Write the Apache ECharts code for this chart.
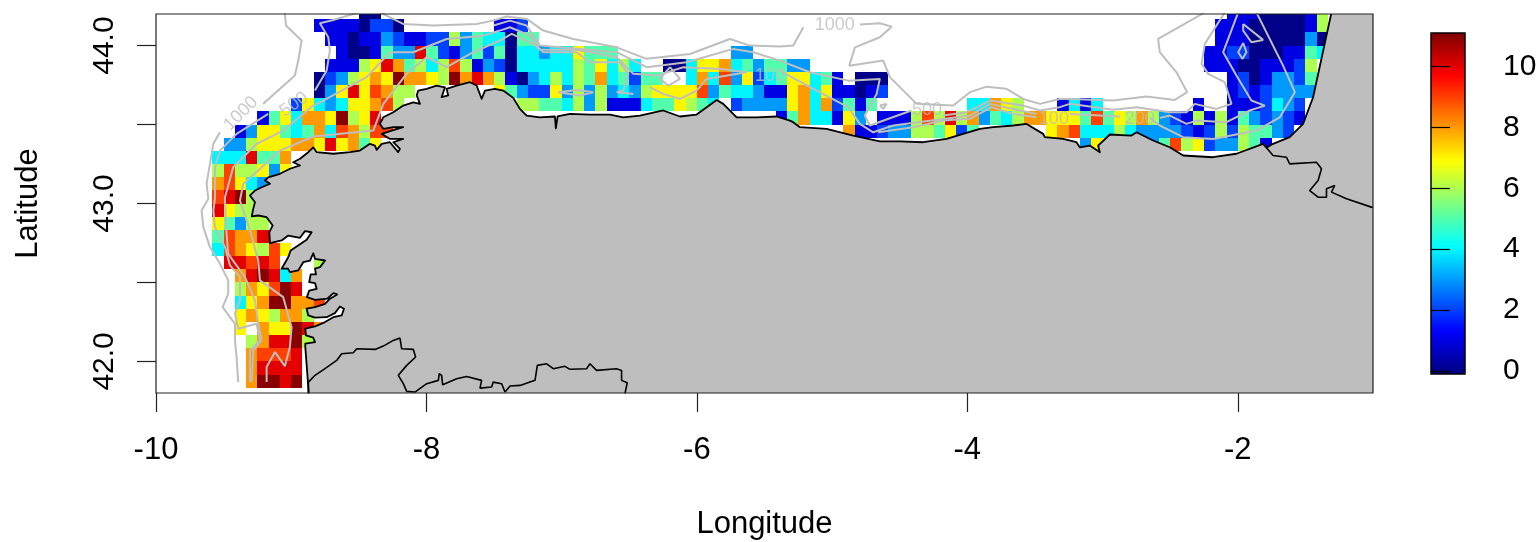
<!DOCTYPE html>
<html>
<head>
<meta charset="utf-8">
<style>html,body{margin:0;padding:0;background:#fff}#c{width:1540px;height:542px}</style>
<script src="https://cdn.jsdelivr.net/npm/echarts@6/dist/echarts.min.js"></script>
</head>
<body>
<div id="c"></div>
<script>
// Grid cells: each row is a list of [first column, values]; column = (lon + 10) * 12, row 0 is the northernmost
const row00 = [[18,[0,0]],[95,[1,1,1,0,0,0,0,1,6]]];
const row01 = [[14,[1,1,1,1,0,2,2,0]],[30,[1,1,2]],[94,[1,1,1,0,0,0,0,0,1,6]]];
const row02 = [[15,[1,1,0,1,1,3,2,1,1,2,2,6,3,5,4,4,0,5,5]],[94,[1,1,1,0,0,0,0,0,3,0]]];
const row03 = [[16,[1,0,0,1,5,3,3,10,5,2,1,3,5,2,5,0,4,4,3,4,4,7,5,5,5]],[51,[3,3]],[93,[1,1,2,2,0,0,0,1,1,5,4]]];
const row04 = [[15,[1,1,1,6,7,10,8,5,6,4,6,9,6,1,3,2,0,4,4,4,4,4,6,5,7,4,6,4]],[45,[0,0,4,7,7,8,4,5,3,5,5,3,3]],[93,[1,1,1,0,0,1,1,1,2,6]]];
const row05 = [[14,[0,2,3,6,7,8,7,11,8,8,7,6,11,8,10,8,6,1,0,3,4,6,4,6,5,8,4,5,2,5,5]],[47,[4,8,4,9,3,7,2,4,5,7,7,4,5,1]],[62,[0,0,0]],[95,[1,2,0,1,3,3,2,5]]];
const row06 = [[14,[0,3,7,10,7,9,8,6,6]],[30,[7,5,3,2,2,7,3,6,3,6,3,4,3,6,7,7,7,7,9,3,5,4,4,3,1,1,7,8,4,7,1,1,0,1,2]],[95,[1,2,1,2,3,3,3,3]]];
const row07 = [[12,[2,7,4,3,4,7,7,8,9,6]],[32,[6,6,5,5,4,6,3,6,1,1,1,4,5,5,7,6,5,4,null,2,3,3,3,3,7,8,4,8,2,5,1,5]],[72,[4,4,8,7,6]],[80,[1,4,1,4]],[92,[1]],[95,[1,1,1,2,4,3,2]]];
const row08 = [[9,[1,5,7,4,8,8,7,11,6,7,10]],[55,[1,5,8,4,4,1,7,3]],[64,[1,1,1,6,9,6,10,6,8,3,5,4,6,8,8,7,7,7,5,9,5,7,6,8,6,3,2,1,6,1,6,1,5,3,2,3,2,1]]];
const row09 = [[7,[1,3,7,7,5,4,5,8,4,9,8,6,9,9]],[61,[8,1,1,2,3,3,6,6,5,7,2,5]],[79,[7,8,9,4,4,4,6,4,3,3,3,3,2,1,2,6,2,6,5,5,3,2]]];
const row10 = [[6,[3,3,6,7,7,7,8,8,7,10,7,8,5,7]],[82,[3,7]],[88,[3,5,9,6,7,2,3,3,6,5,1]]];
const row11 = [[5,[4,4,4,10,5,5,8]]];
const row12 = [[5,[6,9,6,6,7,3,7]]];
const row13 = [[5,[8,9,7,4,3]]];
const row14 = [[5,[9,10,11,6]]];
const row15 = [[5,[10,7,6,6]]];
const row16 = [[5,[7,5,3,6,6]]];
const row17 = [[5,[5,9,8,8,10]]];
const row18 = [[5,[4,9,8,7,6,9,7]]];
const row19 = [[6,[10,10,9,10,9]],[14,[6]]];
const row20 = [[7,[8,10,11,10,4,8]]];
const row21 = [[7,[6,8,7,9,11,10]]];
const row22 = [[7,[4,7,8,11,11,8,8,9]]];
const row23 = [[7,[7,8,7,6,8,8,6]]];
const row24 = [[7,[7,null,8,7,7,11,10,8]]];
const row25 = [[8,[6,8,10,10,11,6]]];
const row26 = [[8,[8,9,9,9,10]]];
const row27 = [[8,[8,10,10,10,10]]];
const row28 = [[8,[8,11,11,10,11]]];
const rows = [row00,row01,row02,row03,row04,row05,row06,row07,row08,row09,row10,row11,row12,row13,row14,row15,row16,row17,row18,row19,row20,row21,row22,row23,row24,row25,row26,row27,row28];

// Land outline as lon/lat
const coast = [[-8.869,41.78],[-8.881,41.922],[-8.896,42.091],[-8.896,42.112],[-8.824,42.122],[-8.837,42.150],[-8.891,42.165],[-8.896,42.207],[-8.824,42.222],[-8.750,42.249],[-8.689,42.280],[-8.627,42.291],[-8.610,42.334],[-8.640,42.348],[-8.677,42.306],[-8.738,42.280],[-8.824,42.277],[-8.874,42.291],[-8.886,42.334],[-8.824,42.344],[-8.750,42.365],[-8.713,42.397],[-8.660,42.424],[-8.689,42.432],[-8.733,42.397],[-8.824,42.390],[-8.884,42.407],[-8.867,42.449],[-8.812,42.460],[-8.824,42.496],[-8.867,42.502],[-8.856,42.551],[-8.817,42.551],[-8.824,42.587],[-8.787,42.597],[-8.750,42.639],[-8.824,42.650],[-8.837,42.685],[-8.861,42.639],[-8.911,42.628],[-8.948,42.576],[-9.009,42.565],[-9.024,42.587],[-9.071,42.587],[-9.022,42.660],[-9.004,42.703],[-8.960,42.728],[-8.886,42.770],[-8.849,42.818],[-8.898,42.825],[-8.935,42.783],[-9.022,42.797],[-9.071,42.766],[-9.157,42.749],[-9.162,42.818],[-9.137,42.861],[-9.182,42.913],[-9.244,42.924],[-9.292,42.918],[-9.281,42.966],[-9.268,43.008],[-9.305,43.051],[-9.268,43.082],[-9.218,43.103],[-9.157,43.125],[-9.194,43.146],[-9.170,43.166],[-9.083,43.188],[-9.009,43.220],[-8.935,43.241],[-8.985,43.261],[-8.935,43.283],[-8.874,43.325],[-8.837,43.356],[-8.812,43.325],[-8.689,43.315],[-8.566,43.325],[-8.492,43.335],[-8.418,43.378],[-8.381,43.367],[-8.368,43.340],[-8.331,43.378],[-8.270,43.388],[-8.209,43.325],[-8.196,43.346],[-8.245,43.388],[-8.172,43.409],[-8.270,43.409],[-8.331,43.441],[-8.257,43.462],[-8.172,43.483],[-8.245,43.483],[-8.319,43.473],[-8.344,43.504],[-8.319,43.546],[-8.245,43.578],[-8.172,43.620],[-8.098,43.641],[-8.048,43.631],[-8.072,43.684],[-8.061,43.715],[-7.999,43.726],[-7.925,43.747],[-7.863,43.736],[-7.888,43.673],[-7.839,43.684],[-7.851,43.726],[-7.777,43.747],[-7.678,43.768],[-7.629,43.747],[-7.592,43.663],[-7.567,43.715],[-7.494,43.726],[-7.432,43.715],[-7.358,43.669],[-7.309,43.599],[-7.259,43.557],[-7.161,43.546],[-7.050,43.551],[-7.043,43.475],[-7.030,43.551],[-6.939,43.568],[-6.791,43.563],[-6.643,43.563],[-6.545,43.546],[-6.421,43.557],[-6.249,43.589],[-6.126,43.551],[-6.002,43.563],[-5.928,43.609],[-5.854,43.656],[-5.805,43.631],[-5.706,43.546],[-5.559,43.546],[-5.411,43.551],[-5.312,43.525],[-5.288,43.515],[-5.238,43.483],[-5.041,43.473],[-4.844,43.430],[-4.647,43.394],[-4.499,43.394],[-4.327,43.388],[-4.154,43.409],[-4.031,43.441],[-3.907,43.473],[-3.809,43.483],[-3.661,43.494],[-3.562,43.504],[-3.439,43.441],[-3.427,43.420],[-3.292,43.409],[-3.193,43.388],[-3.168,43.356],[-3.094,43.367],[-3.020,43.325],[-3.033,43.367],[-2.946,43.437],[-2.786,43.430],[-2.749,43.451],[-2.626,43.399],[-2.503,43.356],[-2.404,43.304],[-2.183,43.293],[-2.010,43.315],[-1.813,43.378],[-1.788,43.353],[-1.739,43.378],[-1.616,43.420],[-1.517,43.504],[-1.443,43.673],[-1.307,44.21],[-0.98,44.21],[-0.98,41.78]];
const borderFrance = [[-1.788,43.353],[-1.739,43.304],[-1.640,43.293],[-1.616,43.251],[-1.418,43.261],[-1.381,43.220],[-1.406,43.146],[-1.468,43.082],[-1.406,43.040],[-1.344,43.040],[-1.344,43.093],[-1.283,43.114],[-1.307,43.072],[-1.196,43.030],[-1.012,42.977],[-1.0,42.975]];
const borderPortugal = [[-8.873,41.796],[-8.873,41.869],[-8.824,41.912],[-8.750,41.954],[-8.664,42.006],[-8.627,42.049],[-8.541,42.055],[-8.516,42.080],[-8.380,42.076],[-8.319,42.097],[-8.245,42.133],[-8.196,42.148],[-8.183,42.080],[-8.097,42.076],[-8.080,42.028],[-8.146,41.975],[-8.208,41.912],[-8.171,41.859],[-8.146,41.810],[-8.085,41.806],[-7.998,41.859],[-7.912,41.880],[-7.905,41.922],[-7.888,41.912],[-7.880,41.852],[-7.777,41.890],[-7.703,41.905],[-7.592,41.880],[-7.604,41.831],[-7.518,41.838],[-7.506,41.869],[-7.444,41.859],[-7.419,41.806],[-7.382,41.844],[-7.308,41.848],[-7.197,41.880],[-7.180,41.975],[-7.111,41.985],[-7.062,41.954],[-6.976,41.969],[-6.939,41.950],[-6.815,41.954],[-6.791,41.985],[-6.742,41.943],[-6.594,41.954],[-6.557,41.943],[-6.557,41.880],[-6.515,41.865],[-6.532,41.796]];

// Depth contours as lon/lat
const contourWest1000 = [[-9.392,41.869],[-9.404,42.027],[-9.416,42.133],[-9.416,42.238],[-9.507,42.344],[-9.466,42.428],[-9.466,42.513],[-9.527,42.618],[-9.601,42.724],[-9.650,42.850],[-9.663,42.956],[-9.613,43.03],[-9.626,43.124],[-9.576,43.378],[-9.527,43.451]];
const contourNorthWest1000 = [[-9.207,43.631],[-8.973,43.810],[-8.948,43.905],[-8.923,44.032],[-9.039,44.127],[-9.047,44.21]];
const contourWest500 = [[-9.305,41.869],[-9.305,42.070],[-9.231,42.133],[-9.256,42.238],[-9.392,42.207],[-9.416,42.302],[-9.379,42.386],[-9.379,42.534],[-9.453,42.608],[-9.490,42.724],[-9.564,42.850],[-9.576,42.956],[-9.564,43.030],[-9.564,43.230],[-9.527,43.335],[-9.404,43.441],[-9.170,43.567]];
const contourNorthWest500 = [[-8.825,43.715],[-8.738,43.842],[-8.714,43.968],[-8.726,44.053],[-8.788,44.141],[-8.689,44.162],[-8.504,44.21]];
const contour200 = [[-9.293,41.869],[-9.281,42.070],[-9.219,42.133],[-9.244,42.238],[-9.268,42.386],[-9.342,42.534],[-9.466,42.681],[-9.478,42.808],[-9.490,43.019],[-9.490,43.040],[-9.429,43.230],[-9.256,43.378],[-9.059,43.462],[-8.837,43.620],[-8.763,43.652],[-8.443,43.800],[-8.270,43.958],[-8.098,43.958],[-7.851,44.042],[-7.580,44.063],[-7.457,44.095],[-7.382,44.116],[-7.234,44.063],[-7.160,43.973],[-6.889,43.973],[-6.593,43.926],[-6.470,43.821],[-6.298,43.810],[-6.101,43.863],[-5.829,43.852],[-5.632,43.831]];
const contour200East = [[-5.386,43.842],[-5.140,43.726],[-4.881,43.610],[-4.795,43.504],[-4.696,43.451],[-4.548,43.494],[-4.166,43.536],[-3.981,43.557],[-3.833,43.631],[-3.611,43.589],[-3.488,43.567]];
const contourNorth1000 = [[-8.344,44.21],[-8.172,44.137],[-7.950,44.127],[-7.629,44.137],[-7.506,44.158],[-7.407,44.184],[-7.259,44.169],[-7.136,44.095],[-6.914,44.042],[-6.593,43.989],[-6.372,43.916],[-6.051,43.947],[-5.756,44.042],[-5.608,44.000],[-5.386,43.994],[-5.287,44.000],[-5.213,44.116]];
const contourEast1000 = [[-4.794,44.133],[-4.647,44.141],[-4.560,44.120],[-4.647,44.053],[-4.831,43.989],[-4.873,43.873],[-4.622,43.905],[-4.573,43.800],[-4.375,43.631],[-4.104,43.620],[-3.981,43.705],[-3.858,43.740],[-3.710,43.726],[-3.587,43.662],[-3.464,43.631],[-3.316,43.662],[-3.242,43.662],[-2.922,43.652],[-2.675,43.677],[-2.466,43.656],[-2.374,43.705],[-2.453,43.831],[-2.577,43.958],[-2.589,44.042],[-2.244,44.21]];
const contourNorth500 = [[-7.505,44.127],[-7.382,44.158],[-7.259,44.127],[-7.160,44.000],[-6.593,43.958],[-6.372,43.863],[-6.076,43.895],[-5.731,43.979],[-5.583,43.958],[-5.386,43.905],[-5.164,43.831],[-4.881,43.778],[-4.647,43.789],[-4.671,43.694],[-4.758,43.557],[-4.721,43.494],[-4.413,43.589]];
const contourEast500 = [[-4.178,43.557],[-4.006,43.578],[-3.833,43.652],[-3.587,43.620],[-3.464,43.589],[-3.316,43.610],[-3.242,43.631],[-2.922,43.593],[-2.749,43.610],[-2.503,43.578],[-2.379,43.578],[-2.318,43.631],[-2.158,43.599],[-2.047,43.631],[-2.096,43.768],[-2.219,43.821],[-2.268,43.884],[-2.244,44.011],[-2.096,44.21]];
const contourBiscay200 = [[-2.577,43.542],[-2.503,43.557],[-2.379,43.504],[-2.305,43.525],[-2.084,43.515],[-1.911,43.589],[-1.800,43.620],[-1.899,43.652],[-2.010,43.810],[-2.108,43.958],[-1.997,44.21]];
const contourBiscay100West = [[-3.242,43.567],[-2.872,43.551]];
const contourBiscay100 = [[-2.650,43.542],[-2.577,43.494],[-2.404,43.420],[-2.182,43.409],[-1.862,43.462],[-1.689,43.546],[-1.578,43.705],[-1.665,43.873],[-1.862,44.21]];
const contourWest100 = [[-9.182,41.869],[-9.182,41.964],[-9.120,42.059],[-9.047,41.970],[-9.010,42.091],[-8.997,42.217],[-9.059,42.407],[-9.231,42.513],[-9.244,42.639],[-9.305,42.829],[-9.379,43.019],[-9.379,43.030],[-9.355,43.124],[-9.083,43.335],[-8.837,43.424],[-8.393,43.462],[-8.319,43.631],[-8.147,43.821],[-7.999,43.926],[-7.851,43.863],[-7.654,43.958],[-7.457,44.032],[-7.370,44.074],[-7.210,44.011],[-7.136,43.958],[-6.889,43.958],[-6.791,43.894],[-6.569,43.894],[-6.507,43.821],[-6.544,43.715],[-6.593,43.705],[-6.470,43.694]];
const contourAsturias100 = [[-6.347,43.736],[-6.248,43.694],[-6.125,43.662],[-6.002,43.715],[-5.928,43.789],[-5.632,43.831]];
const contourCantabria100 = [[-4.659,43.451],[-4.400,43.483],[-4.178,43.525],[-3.981,43.536],[-3.821,43.610],[-3.661,43.567],[-3.488,43.546]];
const loopA = [[-6.199,43.863],[-6.125,43.789],[-6.212,43.747],[-6.273,43.789],[-6.199,43.863]];
const loopB = [[-7.025,43.705],[-6.889,43.719],[-6.766,43.705],[-6.865,43.684],[-7.025,43.705]];
const loopC = [[-4.647,43.620],[-4.597,43.631],[-4.622,43.599],[-4.647,43.620]];
const loopD = [[-1.960,44.137],[-1.813,44.036],[-1.899,44.021],[-1.960,44.095],[-1.960,44.137]];
const loopE = [[-1.960,44.017],[-1.936,43.958],[-1.965,43.916],[-1.997,43.958],[-1.960,44.017]];
const contours = [contourWest1000,contourNorthWest1000,contourWest500,contourNorthWest500,contour200,contour200East,contourNorth1000,contourEast1000,contourNorth500,contourEast500,contourBiscay200,contourBiscay100West,contourBiscay100,contourWest100,contourAsturias100,contourCantabria100,loopA,loopB,loopC,loopD,loopE];

const contourLabelText = ['1000','1000','500','100','500','100','200'];
const contourLabelLon = [-4.980,-9.372,-8.980,-5.460,-4.299,-3.360,-2.725];
const contourLabelLat = [44.127,43.570,43.627,43.810,43.589,43.538,43.538];
const contourLabelAngle = [0,45,35,0,0,0,0];

const xTicks = [-10,-8,-6,-4,-2];
const yTicks = [42,42.5,43,43.5,44];
const yLabels = [42,43,44];
const barTicks = [0,2,4,6,8,10];
const jet = ['#00007f','#0000ff','#007fff','#00ffff','#7fff7f','#ffff00','#ff7f00','#ff0000','#7f0000'];
const FONT = '"Liberation Sans", Arial, sans-serif';
const STEP = 1 / 12;

const cells = [];
rows.forEach((row, r) => {
  const latBottom = 44 + (2 - r) * STEP;
  row.forEach(([first, vals]) => {
    vals.forEach((v, i) => {
      if (v !== null) cells.push([-10 + (first + i) * STEP, latBottom, v]);
    });
  });
});

const lineSeries = contours.map(d => ({
  type: 'line', data: d, xAxisIndex: 0, yAxisIndex: 0, showSymbol: false, symbol: 'none', smooth: false,
  lineStyle: { color: '#bebebe', width: 2 }, z: 4, silent: true, animation: false
}));

const chart = echarts.init(document.getElementById('c'), null, { renderer: 'canvas' });
chart.setOption({
  animation: false,
  backgroundColor: '#fff',
  textStyle: { fontFamily: FONT },
  grid: [
    { left: 156, top: 14, width: 1217, height: 379, show: true, borderColor: '#222', borderWidth: 1.2, backgroundColor: 'transparent', z: 10, outerBoundsMode: 'none' },
    { left: 1431, top: 33, width: 34, height: 341, show: true, borderColor: '#000', borderWidth: 1.5, backgroundColor: 'transparent', z: 10, outerBoundsMode: 'none' }
  ],
  xAxis: [
    { type: 'value', gridIndex: 0, min: -10, max: -1, splitLine: { show: false }, z: 10,
      axisLine: { show: false },
      axisTick: { show: true, length: 19, customValues: xTicks, lineStyle: { color: '#222', width: 1.2 } },
      axisLabel: { customValues: xTicks, fontSize: 31, color: '#000', margin: 42, fontFamily: FONT },
      name: 'Longitude', nameLocation: 'middle', nameGap: 131, nameTextStyle: { fontSize: 31, color: '#000', fontFamily: FONT, verticalAlign: 'middle' } },
    { type: 'value', gridIndex: 1, min: 0, max: 1, show: false }
  ],
  yAxis: [
    { type: 'value', gridIndex: 0, min: 41.8, max: 44.2, splitLine: { show: false }, z: 10,
      axisLine: { show: false },
      axisTick: { show: true, length: 19, customValues: yTicks, lineStyle: { color: '#222', width: 1.2 } },
      axisLabel: { customValues: yLabels, fontSize: 30, color: '#000', rotate: 90, margin: 51, fontFamily: FONT,
        formatter: v => Number(v).toFixed(1), verticalAlign: 'middle', align: 'center' },
      name: 'Latitude', nameLocation: 'middle', nameGap: 128, nameRotate: 90, nameTextStyle: { fontSize: 31, color: '#000', fontFamily: FONT, verticalAlign: 'middle' } },
    { type: 'value', gridIndex: 1, min: -0.1, max: 11.1, position: 'right', splitLine: { show: false }, z: 10,
      axisLine: { show: false },
      axisTick: { show: true, length: 19, customValues: barTicks, lineStyle: { color: '#000', width: 1.2 } },
      axisLabel: { customValues: barTicks, fontSize: 30, color: '#000', margin: 38, fontFamily: FONT, formatter: v => String(v) } }
  ],
  visualMap: {
    type: 'continuous', show: true, seriesIndex: 0, dimension: 2, min: -0.1, max: 11.1,
    inRange: { color: jet }, left: 1431, top: 33, itemWidth: 34, itemHeight: 341, padding: 0,
    text: null, calculable: false, showLabel: false, hoverLink: false, textStyle: { fontSize: 0, color: 'transparent' }
  },
  series: [
    { type: 'custom', name: 'cells', xAxisIndex: 0, yAxisIndex: 0, data: cells, clip: true, z: 2, silent: true,
      renderItem: (params, api) => {
        const a = api.coord([api.value(0), api.value(1) + STEP]).map(Math.round);
        const b = api.coord([api.value(0) + STEP, api.value(1)]).map(Math.round);
        return { type: 'rect', shape: { x: a[0], y: a[1], width: b[0] - a[0], height: b[1] - a[1] },
          style: { fill: api.visual('color') } };
      } },
    { type: 'custom', name: 'land', xAxisIndex: 0, yAxisIndex: 0, data: [0], clip: true, z: 3, silent: true,
      renderItem: (params, api) => ({
        type: 'polygon', shape: { points: coast.map(p => api.coord(p)) },
        style: { fill: '#bebebe', stroke: '#000', lineWidth: 1.8, lineJoin: 'round' }
      }) },
    ...lineSeries,
    { type: 'line', data: borderFrance, xAxisIndex: 0, yAxisIndex: 0, symbol: 'none', lineStyle: { color: '#000', width: 1.6 }, z: 4, silent: true },
    { type: 'line', data: borderPortugal, xAxisIndex: 0, yAxisIndex: 0, symbol: 'none', lineStyle: { color: '#000', width: 1.6 }, z: 4, silent: true },
    { type: 'scatter', xAxisIndex: 0, yAxisIndex: 0, symbolSize: 0, z: 5, silent: true,
      data: contourLabelText.map((t, i) => ({
        value: [contourLabelLon[i], contourLabelLat[i]], name: t,
        label: { show: true, position: 'inside', formatter: t, rotate: contourLabelAngle[i], fontSize: 18, color: '#bebebe', fontFamily: FONT }
      })) }
  ]
});
</script>
</body>
</html>
